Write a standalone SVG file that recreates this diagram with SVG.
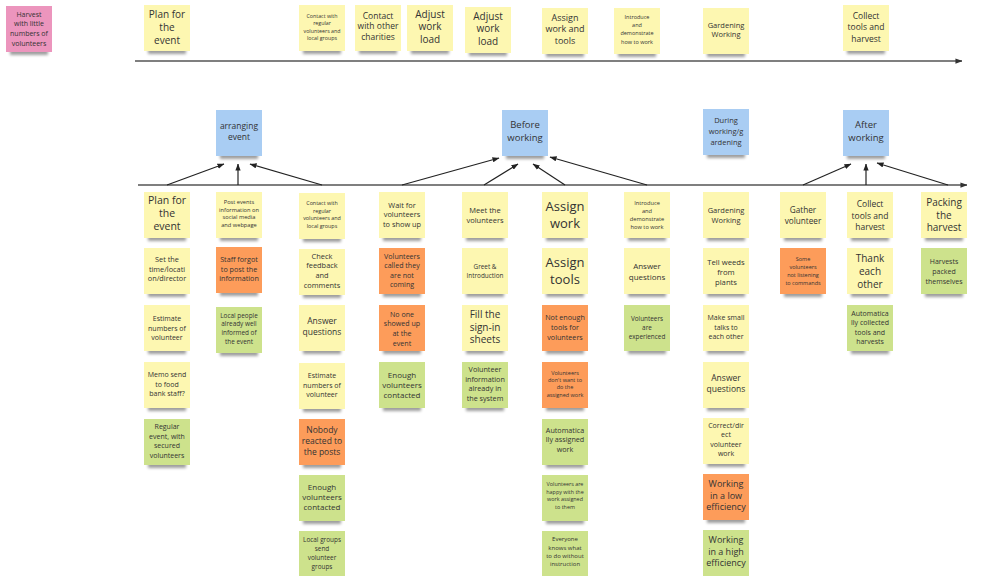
<svg xmlns="http://www.w3.org/2000/svg" width="984" height="576" viewBox="0 0 984 576">
<style>
text{font-family:"Open Sans","Liberation Sans",sans-serif;fill:#333;text-anchor:middle}
.y{fill:#fdf7b1}.o{fill:#fd9c5a}.g{fill:#cde28c}.b{fill:#a9cdf3}.p{fill:#ec95bd}
.sh{fill:#000;opacity:.38;filter:url(#blur)}
.tl{stroke:#555;stroke-width:1.3;fill:none}
.ar{stroke:#222;stroke-width:1.2;fill:none;marker-end:url(#ah)}
</style>
<defs>
<filter id="blur" x="-20%" y="-100%" width="140%" height="300%"><feGaussianBlur stdDeviation="1.4"/></filter>
<marker id="ah" viewBox="0 0 8 6" refX="7.5" refY="3" markerWidth="7" markerHeight="5.5" markerUnits="userSpaceOnUse" orient="auto"><path d="M0,0L8,3L0,6z" fill="#222"/></marker>
<marker id="ahl" viewBox="0 0 8 6" refX="7.5" refY="3" markerWidth="7" markerHeight="5.5" markerUnits="userSpaceOnUse" orient="auto"><path d="M0,0L8,3L0,6z" fill="#333"/></marker>
</defs>
<rect width="984" height="576" fill="#fff"/>

<g id="connectors">
<path class="tl" d="M135,61H962" marker-end="url(#ahl)"/>
<path class="tl" d="M138,185H967" marker-end="url(#ahl)"/>
<path class="ar" d="M167,185L224,164"/>
<path class="ar" d="M238,185V164"/>
<path class="ar" d="M322,185L250,164"/>
<path class="ar" d="M402,185L499,158"/>
<path class="ar" d="M484,185L518,164"/>
<path class="ar" d="M565,185L533,164"/>
<path class="ar" d="M647,185L550,157"/>
<path class="ar" d="M803,185L851,164"/>
<path class="ar" d="M866,185V164"/>
<path class="ar" d="M948,185L877,163"/>
</g>

<!-- top row -->
<g id="top-harvest"><rect class="sh" x="10" y="48" width="38" height="7"/><rect class="p" x="6" y="6" width="46" height="46"/>
<text font-size="7" y="16.5"><tspan x="29">Harvest</tspan><tspan x="29" dy="9.7">with little</tspan><tspan x="29" dy="9.7">numbers of</tspan><tspan x="29" dy="9.7">volunteers</tspan></text></g>
<g id="top-plan"><rect class="sh" x="148" y="47" width="38" height="7"/><rect class="y" x="144" y="5" width="46" height="46"/>
<text font-size="10" y="17.8"><tspan x="167">Plan for</tspan><tspan x="167" dy="13">the</tspan><tspan x="167" dy="13">event</tspan></text></g>
<g id="top-contact-regular"><rect class="sh" x="303" y="47" width="38" height="7"/><rect class="y" x="299" y="5" width="46" height="46"/>
<text font-size="5.3" y="18"><tspan x="322">Contact with</tspan><tspan x="322" dy="7.3">regular</tspan><tspan x="322" dy="7.3">volunteers and</tspan><tspan x="322" dy="7.3">local groups</tspan></text></g>
<g id="top-contact-other"><rect class="sh" x="359" y="47" width="38" height="7"/><rect class="y" x="355" y="5" width="46" height="46"/>
<text font-size="8.5" y="18.6"><tspan x="378">Contact</tspan><tspan x="378" dy="10.8">with other</tspan><tspan x="378" dy="10.8">charities</tspan></text></g>
<g id="top-adjust-1"><rect class="sh" x="411" y="47" width="38" height="7"/><rect class="y" x="407" y="5" width="46" height="46"/>
<text font-size="10" y="17.6"><tspan x="430">Adjust</tspan><tspan x="430" dy="12.7">work</tspan><tspan x="430" dy="12.7">load</tspan></text></g>
<g id="top-adjust-2"><rect class="sh" x="469" y="49" width="38" height="7"/><rect class="y" x="465" y="7" width="46" height="46"/>
<text font-size="10" y="19.6"><tspan x="488">Adjust</tspan><tspan x="488" dy="12.7">work</tspan><tspan x="488" dy="12.7">load</tspan></text></g>
<g id="top-assign"><rect class="sh" x="546" y="50" width="38" height="7"/><rect class="y" x="542" y="8" width="46" height="46"/>
<text font-size="9" y="20.5"><tspan x="565">Assign</tspan><tspan x="565" dy="11.7">work and</tspan><tspan x="565" dy="11.7">tools</tspan></text></g>
<g id="top-introduce"><rect class="sh" x="618" y="50" width="38" height="7"/><rect class="y" x="614" y="8" width="46" height="46"/>
<text font-size="5.5" y="18.7"><tspan x="637">Introduce</tspan><tspan x="637" dy="8.3">and</tspan><tspan x="637" dy="8.3">demonstrate</tspan><tspan x="637" dy="8.3">how to work</tspan></text></g>
<g id="top-gardening"><rect class="sh" x="707" y="50" width="38" height="7"/><rect class="y" x="703" y="8" width="46" height="46"/>
<text font-size="7.5" y="27.6"><tspan x="726">Gardening</tspan><tspan x="726" dy="9.5">Working</tspan></text></g>
<g id="top-collect"><rect class="sh" x="847" y="47" width="38" height="7"/><rect class="y" x="843" y="5" width="46" height="46"/>
<text font-size="8.5" y="18.6"><tspan x="866">Collect</tspan><tspan x="866" dy="11.5">tools and</tspan><tspan x="866" dy="11.5">harvest</tspan></text></g>

<!-- phases -->
<g id="phase-arranging"><rect class="sh" x="220" y="152" width="38" height="7"/><rect class="b" x="216" y="110" width="46" height="46"/>
<text font-size="8.5" y="129"><tspan x="239">arranging</tspan><tspan x="239" dy="11">event</tspan></text></g>
<g id="phase-before"><rect class="sh" x="506" y="152" width="38" height="7"/><rect class="b" x="502" y="110" width="46" height="46"/>
<text font-size="9.5" y="127.6"><tspan x="525">Before</tspan><tspan x="525" dy="13.3">working</tspan></text></g>
<g id="phase-during"><rect class="sh" x="707" y="151" width="38" height="7"/><rect class="b" x="703" y="109" width="46" height="46"/>
<text font-size="7.5" y="123.3"><tspan x="726">During</tspan><tspan x="726" dy="10.7">working/g</tspan><tspan x="726" dy="10.7">ardening</tspan></text></g>
<g id="phase-after"><rect class="sh" x="847" y="152" width="38" height="7"/><rect class="b" x="843" y="110" width="46" height="46"/>
<text font-size="9.5" y="127.6"><tspan x="866">After</tspan><tspan x="866" dy="13.3">working</tspan></text></g>

<!-- column 1 -->
<g id="c1-plan"><rect class="sh" x="148" y="234" width="38" height="7"/><rect class="y" x="144" y="192" width="46" height="46"/>
<text font-size="10.5" y="203.5"><tspan x="167">Plan for</tspan><tspan x="167" dy="13">the</tspan><tspan x="167" dy="13">event</tspan></text></g>
<g id="c1-set-time"><rect class="sh" x="148" y="290" width="38" height="7"/><rect class="y" x="144" y="248" width="46" height="46"/>
<text font-size="7.3" y="262"><tspan x="167">Set the</tspan><tspan x="167" dy="9.5">time/locati</tspan><tspan x="167" dy="9.5">on/director</tspan></text></g>
<g id="c1-estimate"><rect class="sh" x="148" y="347" width="38" height="7"/><rect class="y" x="144" y="305" width="46" height="46"/>
<text font-size="7" y="321"><tspan x="167">Estimate</tspan><tspan x="167" dy="9.5">numbers of</tspan><tspan x="167" dy="9.5">volunteer</tspan></text></g>
<g id="c1-memo"><rect class="sh" x="148" y="404" width="38" height="7"/><rect class="y" x="144" y="362" width="46" height="46"/>
<text font-size="7" y="377"><tspan x="167">Memo send</tspan><tspan x="167" dy="9.5">to food</tspan><tspan x="167" dy="9.5">bank staff?</tspan></text></g>
<g id="c1-regular"><rect class="sh" x="148" y="461" width="38" height="7"/><rect class="g" x="144" y="419" width="46" height="46"/>
<text font-size="7" y="429.3"><tspan x="167">Regular</tspan><tspan x="167" dy="9.5">event, with</tspan><tspan x="167" dy="9.5">secured</tspan><tspan x="167" dy="9.5">volunteers</tspan></text></g>

<!-- column 2 -->
<g id="c2-post"><rect class="sh" x="220" y="234" width="38" height="7"/><rect class="y" x="216" y="192" width="46" height="46"/>
<text font-size="5.7" y="203.7"><tspan x="239">Post events</tspan><tspan x="239" dy="7.8">information on</tspan><tspan x="239" dy="7.8">social media</tspan><tspan x="239" dy="7.8">and webpage</tspan></text></g>
<g id="c2-staff"><rect class="sh" x="220" y="289" width="38" height="7"/><rect class="o" x="216" y="247" width="46" height="46"/>
<text font-size="7.2" y="262"><tspan x="239">Staff forgot</tspan><tspan x="239" dy="9.5">to post the</tspan><tspan x="239" dy="9.5">information</tspan></text></g>
<g id="c2-local"><rect class="sh" x="220" y="349" width="38" height="7"/><rect class="g" x="216" y="307" width="46" height="46"/>
<text font-size="6.4" y="317.5"><tspan x="239">Local people</tspan><tspan x="239" dy="8.7">already well</tspan><tspan x="239" dy="8.7">informed of</tspan><tspan x="239" dy="8.7">the event</tspan></text></g>

<!-- column 3 -->
<g id="c3-contact"><rect class="sh" x="303" y="235" width="38" height="7"/><rect class="y" x="299" y="193" width="46" height="46"/>
<text font-size="5.4" y="205.3"><tspan x="322">Contact with</tspan><tspan x="322" dy="7.5">regular</tspan><tspan x="322" dy="7.5">volunteers and</tspan><tspan x="322" dy="7.5">local groups</tspan></text></g>
<g id="c3-check"><rect class="sh" x="303" y="291" width="38" height="7"/><rect class="y" x="299" y="249" width="46" height="46"/>
<text font-size="7.4" y="258.7"><tspan x="322">Check</tspan><tspan x="322" dy="9.7">feedback</tspan><tspan x="322" dy="9.7">and</tspan><tspan x="322" dy="9.7">comments</tspan></text></g>
<g id="c3-answer"><rect class="sh" x="303" y="347" width="38" height="7"/><rect class="y" x="299" y="305" width="46" height="46"/>
<text font-size="8.5" y="324"><tspan x="322">Answer</tspan><tspan x="322" dy="10.7">questions</tspan></text></g>
<g id="c3-estimate"><rect class="sh" x="303" y="405" width="38" height="7"/><rect class="y" x="299" y="363" width="46" height="46"/>
<text font-size="7" y="378.2"><tspan x="322">Estimate</tspan><tspan x="322" dy="9.5">numbers of</tspan><tspan x="322" dy="9.5">volunteer</tspan></text></g>
<g id="c3-nobody"><rect class="sh" x="303" y="461" width="38" height="7"/><rect class="o" x="299" y="419" width="46" height="46"/>
<text font-size="8.5" y="433"><tspan x="322">Nobody</tspan><tspan x="322" dy="10.8">reacted to</tspan><tspan x="322" dy="10.8">the posts</tspan></text></g>
<g id="c3-enough"><rect class="sh" x="303" y="517" width="38" height="7"/><rect class="g" x="299" y="475" width="46" height="46"/>
<text font-size="8" y="489.5"><tspan x="322">Enough</tspan><tspan x="322" dy="10">volunteers</tspan><tspan x="322" dy="10">contacted</tspan></text></g>
<g id="c3-groups"><rect class="sh" x="303" y="573" width="38" height="7"/><rect class="g" x="299" y="531" width="46" height="46"/>
<text font-size="6.4" y="541.6"><tspan x="322">Local groups</tspan><tspan x="322" dy="9">send</tspan><tspan x="322" dy="9">volunteer</tspan><tspan x="322" dy="9">groups</tspan></text></g>

<!-- column 4 -->
<g id="c4-wait"><rect class="sh" x="383" y="234" width="38" height="7"/><rect class="y" x="379" y="192" width="46" height="46"/>
<text font-size="7.4" y="207.7"><tspan x="402">Wait for</tspan><tspan x="402" dy="9.7">volunteers</tspan><tspan x="402" dy="9.7">to show up</tspan></text></g>
<g id="c4-called"><rect class="sh" x="383" y="290" width="38" height="7"/><rect class="o" x="379" y="248" width="46" height="46"/>
<text font-size="7.1" y="258.6"><tspan x="402">Volunteers</tspan><tspan x="402" dy="9.5">called they</tspan><tspan x="402" dy="9.5">are not</tspan><tspan x="402" dy="9.5">coming</tspan></text></g>
<g id="c4-noone"><rect class="sh" x="383" y="347" width="38" height="7"/><rect class="o" x="379" y="305" width="46" height="46"/>
<text font-size="7.1" y="316.8"><tspan x="402">No one</tspan><tspan x="402" dy="9.6">showed up</tspan><tspan x="402" dy="9.6">at the</tspan><tspan x="402" dy="9.6">event</tspan></text></g>
<g id="c4-enough"><rect class="sh" x="383" y="404" width="38" height="7"/><rect class="g" x="379" y="362" width="46" height="46"/>
<text font-size="8" y="377.8"><tspan x="402">Enough</tspan><tspan x="402" dy="10">volunteers</tspan><tspan x="402" dy="10">contacted</tspan></text></g>

<!-- column 5 -->
<g id="c5-meet"><rect class="sh" x="466" y="234" width="38" height="7"/><rect class="y" x="462" y="192" width="46" height="46"/>
<text font-size="7.5" y="212.6"><tspan x="485">Meet the</tspan><tspan x="485" dy="10.3">volunteers</tspan></text></g>
<g id="c5-greet"><rect class="sh" x="466" y="290" width="38" height="7"/><rect class="y" x="462" y="248" width="46" height="46"/>
<text font-size="6.4" y="269"><tspan x="485">Greet &amp;</tspan><tspan x="485" dy="8.7">Introduction</tspan></text></g>
<g id="c5-fill"><rect class="sh" x="466" y="347" width="38" height="7"/><rect class="y" x="462" y="305" width="46" height="46"/>
<text font-size="10" y="317.8"><tspan x="485">Fill the</tspan><tspan x="485" dy="12.8">sign-in</tspan><tspan x="485" dy="12.8">sheets</tspan></text></g>
<g id="c5-info"><rect class="sh" x="466" y="404" width="38" height="7"/><rect class="g" x="462" y="362" width="46" height="46"/>
<text font-size="7.2" y="371.9"><tspan x="485">Volunteer</tspan><tspan x="485" dy="9.6">information</tspan><tspan x="485" dy="9.6">already in</tspan><tspan x="485" dy="9.6">the system</tspan></text></g>

<!-- column 6 -->
<g id="c6-assign-work"><rect class="sh" x="546" y="234" width="38" height="7"/><rect class="y" x="542" y="192" width="46" height="46"/>
<text font-size="13" y="211.2"><tspan x="565">Assign</tspan><tspan x="565" dy="16.7">work</tspan></text></g>
<g id="c6-assign-tools"><rect class="sh" x="546" y="290" width="38" height="7"/><rect class="y" x="542" y="248" width="46" height="46"/>
<text font-size="13" y="267.2"><tspan x="565">Assign</tspan><tspan x="565" dy="16.7">tools</tspan></text></g>
<g id="c6-notenough"><rect class="sh" x="546" y="347" width="38" height="7"/><rect class="o" x="542" y="305" width="46" height="46"/>
<text font-size="7.2" y="320.3"><tspan x="565">Not enough</tspan><tspan x="565" dy="9.6">tools for</tspan><tspan x="565" dy="9.6">volunteers</tspan></text></g>
<g id="c6-dontwant"><rect class="sh" x="546" y="404" width="38" height="7"/><rect class="o" x="542" y="362" width="46" height="46"/>
<text font-size="5.5" y="374.6"><tspan x="565">Volunteers</tspan><tspan x="565" dy="7.3">don't want to</tspan><tspan x="565" dy="7.3">do the</tspan><tspan x="565" dy="7.3">assigned work</tspan></text></g>
<g id="c6-auto"><rect class="sh" x="546" y="461" width="38" height="7"/><rect class="g" x="542" y="419" width="46" height="46"/>
<text font-size="7.2" y="432.6"><tspan x="565">Automatica</tspan><tspan x="565" dy="9.5">lly assigned</tspan><tspan x="565" dy="9.5">work</tspan></text></g>
<g id="c6-happy"><rect class="sh" x="546" y="517" width="38" height="7"/><rect class="g" x="542" y="475" width="46" height="46"/>
<text font-size="5.4" y="486.3"><tspan x="565">Volunteers are</tspan><tspan x="565" dy="7.5">happy with the</tspan><tspan x="565" dy="7.5">work assigned</tspan><tspan x="565" dy="7.5">to them</tspan></text></g>
<g id="c6-everyone"><rect class="sh" x="546" y="573" width="38" height="7"/><rect class="g" x="542" y="531" width="46" height="46"/>
<text font-size="6" y="541.4"><tspan x="565">Everyone</tspan><tspan x="565" dy="8.2">knows what</tspan><tspan x="565" dy="8.2">to do without</tspan><tspan x="565" dy="8.2">instruction</tspan></text></g>

<!-- column 7 -->
<g id="c7-introduce"><rect class="sh" x="628" y="234" width="38" height="7"/><rect class="y" x="624" y="192" width="46" height="46"/>
<text font-size="5.7" y="205.4"><tspan x="647">Introduce</tspan><tspan x="647" dy="8">and</tspan><tspan x="647" dy="8">demonstrate</tspan><tspan x="647" dy="8">how to work</tspan></text></g>
<g id="c7-answer"><rect class="sh" x="628" y="290" width="38" height="7"/><rect class="y" x="624" y="248" width="46" height="46"/>
<text font-size="8" y="268.8"><tspan x="647">Answer</tspan><tspan x="647" dy="10.7">questions</tspan></text></g>
<g id="c7-experienced"><rect class="sh" x="628" y="347" width="38" height="7"/><rect class="g" x="624" y="305" width="46" height="46"/>
<text font-size="6.4" y="321.3"><tspan x="647">Volunteers</tspan><tspan x="647" dy="8.8">are</tspan><tspan x="647" dy="8.8">experienced</tspan></text></g>

<!-- column 8 -->
<g id="c8-gardening"><rect class="sh" x="707" y="234" width="38" height="7"/><rect class="y" x="703" y="192" width="46" height="46"/>
<text font-size="7.5" y="212.6"><tspan x="726">Gardening</tspan><tspan x="726" dy="10.3">Working</tspan></text></g>
<g id="c8-weeds"><rect class="sh" x="707" y="290" width="38" height="7"/><rect class="y" x="703" y="248" width="46" height="46"/>
<text font-size="7.7" y="264.5"><tspan x="726">Tell weeds</tspan><tspan x="726" dy="10.3">from</tspan><tspan x="726" dy="10.3">plants</tspan></text></g>
<g id="c8-talks"><rect class="sh" x="707" y="347" width="38" height="7"/><rect class="y" x="703" y="305" width="46" height="46"/>
<text font-size="7" y="320.2"><tspan x="726">Make small</tspan><tspan x="726" dy="9.5">talks to</tspan><tspan x="726" dy="9.5">each other</tspan></text></g>
<g id="c8-answer"><rect class="sh" x="707" y="404" width="38" height="7"/><rect class="y" x="703" y="362" width="46" height="46"/>
<text font-size="8.5" y="381.3"><tspan x="726">Answer</tspan><tspan x="726" dy="10.7">questions</tspan></text></g>
<g id="c8-correct"><rect class="sh" x="707" y="460" width="38" height="7"/><rect class="y" x="703" y="418" width="46" height="46"/>
<text font-size="7" y="427.5"><tspan x="726">Correct/dir</tspan><tspan x="726" dy="9.5">ect</tspan><tspan x="726" dy="9.5">volunteer</tspan><tspan x="726" dy="9.5">work</tspan></text></g>
<g id="c8-low"><rect class="sh" x="707" y="516" width="38" height="7"/><rect class="o" x="703" y="474" width="46" height="46"/>
<text font-size="9" y="487.2"><tspan x="726">Working</tspan><tspan x="726" dy="11.5">in a low</tspan><tspan x="726" dy="11.5">efficiency</tspan></text></g>
<g id="c8-high"><rect class="sh" x="707" y="572" width="38" height="7"/><rect class="g" x="703" y="530" width="46" height="46"/>
<text font-size="9" y="543.2"><tspan x="726">Working</tspan><tspan x="726" dy="11.5">in a high</tspan><tspan x="726" dy="11.5">efficiency</tspan></text></g>

<!-- column 9 -->
<g id="c9-gather"><rect class="sh" x="784" y="234" width="38" height="7"/><rect class="y" x="780" y="192" width="46" height="46"/>
<text font-size="8.2" y="212.9"><tspan x="803">Gather</tspan><tspan x="803" dy="10.7">volunteer</tspan></text></g>
<g id="c9-notlistening"><rect class="sh" x="784" y="290" width="38" height="7"/><rect class="o" x="780" y="248" width="46" height="46"/>
<text font-size="5.5" y="261.2"><tspan x="803">Some</tspan><tspan x="803" dy="8">volunteers</tspan><tspan x="803" dy="8">not listening</tspan><tspan x="803" dy="8">to commands</tspan></text></g>

<!-- column 10 -->
<g id="c10-collect"><rect class="sh" x="851" y="234" width="38" height="7"/><rect class="y" x="847" y="192" width="46" height="46"/>
<text font-size="8.5" y="207"><tspan x="870">Collect</tspan><tspan x="870" dy="11.5">tools and</tspan><tspan x="870" dy="11.5">harvest</tspan></text></g>
<g id="c10-thank"><rect class="sh" x="851" y="290" width="38" height="7"/><rect class="y" x="847" y="248" width="46" height="46"/>
<text font-size="10" y="261.8"><tspan x="870">Thank</tspan><tspan x="870" dy="13">each</tspan><tspan x="870" dy="13">other</tspan></text></g>
<g id="c10-auto"><rect class="sh" x="851" y="347" width="38" height="7"/><rect class="g" x="847" y="305" width="46" height="46"/>
<text font-size="7" y="315.8"><tspan x="870">Automatica</tspan><tspan x="870" dy="9.5">lly collected</tspan><tspan x="870" dy="9.5">tools and</tspan><tspan x="870" dy="9.5">harvests</tspan></text></g>

<!-- column 11 -->
<g id="c11-packing"><rect class="sh" x="925" y="234" width="38" height="7"/><rect class="y" x="921" y="192" width="46" height="46"/>
<text font-size="10" y="205.8"><tspan x="944">Packing</tspan><tspan x="944" dy="12.8">the</tspan><tspan x="944" dy="12.8">harvest</tspan></text></g>
<g id="c11-packed"><rect class="sh" x="925" y="290" width="38" height="7"/><rect class="g" x="921" y="248" width="46" height="46"/>
<text font-size="7" y="264.2"><tspan x="944">Harvests</tspan><tspan x="944" dy="10">packed</tspan><tspan x="944" dy="10">themselves</tspan></text></g>
</svg>
